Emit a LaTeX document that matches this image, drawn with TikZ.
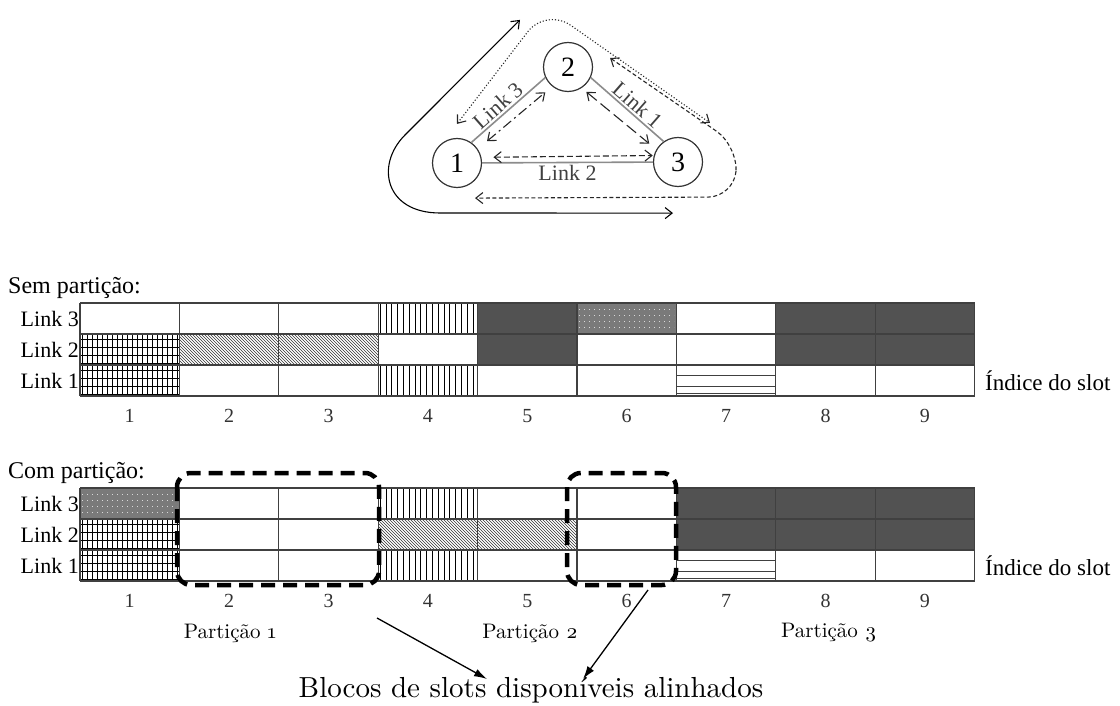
\documentclass[tikz,border=0pt]{standalone}
\usepackage{fontspec}
\setmainfont{Liberation Serif}
\newfontfamily\oldface[Numbers=OldStyle]{lmroman10-regular.otf}
\usetikzlibrary{arrows.meta, patterns}

% one slot table: #1 occupied, #2 dotted, #3 vertical lines, #4 grid,
% #5 hatched, #6 striped cells (col/row), #7 prefix for node names
\newcommand\slotgrid[7]{%
  \foreach \c/\r in {#1}{\fill[black!68] ({(\c-1)*99.4},{(\r-1)*31}) rectangle ++(99.4,31);}
  \foreach \c/\r in {#2}{\fill[black!52] ({(\c-1)*99.4},{(\r-1)*31}) rectangle ++(99.4,31);
    \foreach \k in {1,...,4}{\draw[black!15, line width=1.3pt, dash pattern=on 1.3pt off 3.7pt] ({(\c-1)*99.4+2},{(\r-1)*31+\k*6.2}) -- ++(95,0);}}
  \foreach \c/\r in {#3}{\foreach \k in {0,...,16}{\draw[line width=0.8pt] ({(\c-1)*99.4+2+\k*5.8},{(\r-1)*31}) -- ++(0,31);}}
  \foreach \c/\r in {#4}{\foreach \k in {0,...,19}{\draw[line width=0.7pt] ({(\c-1)*99.4+2+\k*5},{(\r-1)*31}) -- ++(0,31);}
    \foreach \k in {1,...,4}{\draw[line width=0.9pt] ({(\c-1)*99.4},{(\r-1)*31+\k*7.75-2}) -- ++(99.4,0);}}
  \foreach \c/\r in {#5}{\fill[pattern=north west lines, pattern color=black!80] ({(\c-1)*99.4},{(\r-1)*31}) rectangle ++(99.4,31);}
  \foreach \c/\r in {#6}{\foreach \k in {10,21,28.5}{\draw[black!75, line width=1pt] ({(\c-1)*99.4},{(\r-1)*31+\k}) -- ++(99.4,0);}}
  % cell borders
  \foreach \c in {0,...,9}{\draw[slotline] (\c*99.4,0) -- (\c*99.4,93);}
  \foreach \r in {0,...,3}{\draw[slotline] (0,\r*31) -- (894.6,\r*31);}
  \foreach \r/\n in {1/3,2/2,3/1}{\node[linklabel, anchor=east] (#7l\n) at (0,{(\r-0.5)*31}) {Link \n};}
  \foreach \c in {1,...,9}{\node[slotnum] (#7s\c) at ({(\c-0.5)*99.4},113) {\c};}
  \node[idxlabel, anchor=west] (#7idx) at (903,78) {Índice do slot};
}

\begin{document}
\begin{tikzpicture}[x=1pt, y=-1pt,
    >={Straight Barb[length=7pt, width=11pt]},
    site/.style={circle, draw=black!80, line width=1.2pt, minimum size=49pt, inner sep=0pt, font=\fontsize{28}{28}\selectfont},
    fiber/.style={black!45, line width=1.6pt},
    route/.style={<->, black!85, line width=1.1pt},
    slotline/.style={black!75, line width=1.2pt},
    linklabel/.style={font=\fontsize{22}{24}\selectfont, inner sep=1pt},
    slotnum/.style={font=\fontsize{20}{21}\selectfont, text=black!80},
    idxlabel/.style={font=\fontsize{23}{24}\selectfont, inner sep=2pt},
    heading/.style={font=\fontsize{24}{26}\selectfont, anchor=west, inner sep=0pt},
    freeblk/.style={line width=4.5pt, dash pattern=on 14pt off 8pt, rounded corners=14pt},
    note/.style={font=\oldface\fontsize{21}{22}\selectfont},
    pointer/.style={-{Latex[length=13pt, width=8pt]}, line width=1.3pt}]
\useasboundingbox (0,0) rectangle (1120,706);

% three nodes and their links
\node[site] (n1) at (457,163) {1};
\node[site] (n2) at (568,67) {2};
\node[site] (n3) at (678,162) {3};
\draw[fiber] (n1.55) -- node[linklabel, text=black!75, sloped, above=1pt, pos=0.45] {Link 3} (n2.205);
\draw[fiber] (n2.335) -- node[linklabel, text=black!75, sloped, above=1pt, pos=0.55] {Link 1} (n3.125);
\draw[fiber] (n1) -- node[linklabel, text=black!75, below=1pt] {Link 2} (n3);

% one-hop requests
\draw[route, dash pattern=on 10pt off 4pt on 2pt off 4pt, shorten <=12pt, shorten >=9pt] (n1.34) -- (n2.231);
\draw[route, dash pattern=on 12pt off 5pt, shorten <=6pt, shorten >=9pt] (n2.303) -- (n3.150);
\draw[route, dash pattern=on 6pt off 3pt, shorten <=12pt, shorten >=1pt] (n1.13) -- (n3.165);

% two-hop requests
\draw[route, dotted, rounded corners=30pt] ([yshift=14pt]n1.north) -- (546,8) -- ([shift={(32pt,14pt)}]n3.north);
\draw[route, dash pattern=on 4pt off 2.5pt, rounded corners=26pt] ([shift={(17pt,9pt)}]n2.east) -- (738,146) -- (734,197) -- ([shift={(18pt,-10pt)}]n1.south);
\draw[route, black] ([shift={(-48pt,22pt)}]n2.north) -- (405,135) .. controls (375,165) and (385,213) .. (440,213) -- ([shift={(-5pt,-26pt)}]n3.south);

% spectrum without partition
\node[heading] (sem) at (8,288) {Sem partição:};
\begin{scope}[shift={(80,303)}]
  \slotgrid{5/1,8/1,9/1,5/2,8/2,9/2}{6/1}{4/1,4/3}{1/2,1/3}{2/2,3/2}{7/3}{a}
\end{scope}

% spectrum with partition
\node[heading] (com) at (8,473) {Com partição:};
\begin{scope}[shift={(80,488)}]
  \slotgrid{7/1,8/1,9/1,7/2,8/2,9/2}{1/1}{4/1,4/3}{1/2,1/3}{4/2,5/2}{7/3}{b}
\end{scope}

% free aligned blocks
\draw[freeblk] (177,473) rectangle (379,585);
\draw[freeblk] (567,473) rectangle (676,585);

\node[note] (p1) at (230,633) {Partição 1};
\node[note] (p2) at (530,633) {Partição 2};
\node[note] (p3) at (829,633) {Partição 3};
\node[font=\oldface\fontsize{29}{30}\selectfont] (blk) at (531,690) {Blocos de slots disponíveis alinhados};

\coordinate (a1) at (377,618);
\coordinate (t1) at (487,679);
\coordinate (a2) at (648,590);
\coordinate (t2) at (583,679);
\draw[pointer] (a1) -- (t1);
\draw[pointer] (a2) -- (t2);
\end{tikzpicture}
\end{document}
